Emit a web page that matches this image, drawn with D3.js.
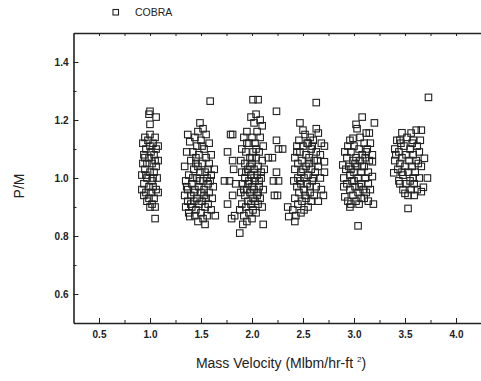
<!DOCTYPE html>
<html>
<head>
<meta charset="utf-8">
<script src="https://cdn.jsdelivr.net/npm/d3@7"></script>
<style>
  body { margin: 0; background: #fff; }
  svg { display: block; font-family: Arial, "Liberation Sans", sans-serif; }
  .axis path, .axis line { stroke: #222; }
  .axis text { fill: #222; font-weight: bold; font-size: 10px; }
</style>
</head>
<body>
<script>
// P/M against mass velocity, COBRA, one array per mass-velocity group: [G, P/M]
var g10 = [
  [1.00,1.23],[1.06,1.21],[0.99,1.22],[1.00,1.185],
  [0.95,1.14],[1.00,1.15],[1.05,1.14],[0.93,1.12],[0.98,1.13],[1.03,1.12],[1.08,1.11],
  [0.96,1.10],[1.01,1.09],[1.06,1.10],[0.94,1.08],[0.99,1.07],[1.04,1.08],[1.08,1.06],
  [0.93,1.05],[0.97,1.05],[1.02,1.05],[1.06,1.04],[0.95,1.03],[1.00,1.02],[1.04,1.02],
  [0.92,1.01],[0.97,1.00],[1.02,0.99],[1.07,1.00],[0.94,0.98],[0.99,0.97],[1.03,0.97],
  [0.92,0.96],[0.96,0.95],[1.01,0.95],[1.06,0.96],[0.94,0.94],[0.99,0.93],[1.04,0.93],
  [1.08,0.95],[0.97,0.92],[1.02,0.91],[1.05,0.90],[1.00,0.90],[0.95,1.07],[1.05,1.06],
  [1.00,1.11],[0.96,1.01],[1.03,1.00],[1.05,0.86]
];
var g15 = [
  [1.59,1.265],
  [1.49,1.19],[1.52,1.17],[1.47,1.16],[1.37,1.15],[1.55,1.15],[1.44,1.14],[1.50,1.13],
  [1.39,1.125],[1.58,1.12],[1.46,1.11],[1.53,1.10],[1.36,1.09],[1.42,1.09],[1.60,1.08],
  [1.48,1.08],[1.55,1.07],[1.40,1.06],[1.45,1.05],[1.51,1.05],[1.58,1.05],[1.34,1.04],
  [1.63,1.03],[1.43,1.03],[1.49,1.02],[1.54,1.02],[1.38,1.01],[1.60,1.01],[1.46,1.00],
  [1.52,0.99],[1.35,0.99],[1.41,0.98],[1.57,0.98],[1.48,0.97],[1.62,0.97],[1.37,0.96],
  [1.44,0.96],[1.53,0.96],[1.50,0.95],[1.58,0.95],[1.34,0.94],[1.40,0.94],[1.46,0.93],
  [1.55,0.93],[1.61,0.93],[1.37,0.92],[1.43,0.92],[1.51,0.92],[1.48,0.91],[1.57,0.91],
  [1.35,0.90],[1.41,0.90],[1.54,0.90],[1.45,0.89],[1.60,0.89],[1.38,0.88],[1.50,0.88],
  [1.56,0.87],[1.39,0.867],[1.44,0.87],[1.64,0.87],[1.47,0.85],[1.52,0.86],[1.54,0.84],
  [1.42,1.00],[1.56,1.00],[1.47,1.04],[1.53,0.94],[1.36,0.97],[1.59,0.99],[1.43,0.95],
  [1.49,0.99],[1.45,1.07],[1.51,1.11],[1.57,1.03],[1.40,0.91]
];
var g20 = [
  [2.01,1.27],[2.06,1.27],[2.04,1.22],[1.99,1.21],[2.08,1.20],[2.02,1.19],[2.10,1.18],
  [1.79,1.15],[1.81,1.15],[1.95,1.16],[2.05,1.16],[1.92,1.14],[2.00,1.14],[2.08,1.14],
  [1.97,1.12],[2.03,1.12],[2.11,1.11],[1.76,1.09],[1.90,1.10],[1.94,1.09],[2.01,1.09],
  [2.07,1.09],[1.98,1.07],[2.04,1.07],[2.10,1.06],[1.81,1.06],[1.89,1.06],[1.93,1.05],
  [2.00,1.05],[2.06,1.04],[1.82,1.03],[1.96,1.03],[2.02,1.03],[2.12,1.03],[1.90,1.02],
  [1.99,1.01],[2.05,1.01],[2.09,1.00],[1.73,0.99],[1.78,0.99],[1.84,0.98],[1.93,1.00],
  [1.97,0.99],[2.03,0.99],[1.91,0.98],[2.00,0.97],[2.07,0.97],[1.95,0.96],[2.02,0.96],
  [2.11,0.96],[1.89,0.95],[1.98,0.95],[2.05,0.94],[1.81,0.94],[1.93,0.94],[2.01,0.93],
  [2.08,0.93],[1.96,0.92],[2.03,0.92],[1.76,0.91],[1.90,0.91],[1.99,0.91],[2.06,0.91],
  [1.94,0.90],[2.01,0.89],[2.10,0.90],[1.88,0.89],[1.97,0.88],[2.04,0.88],[1.92,0.87],
  [1.83,0.87],[1.80,0.86],[2.00,0.86],[1.95,0.85],[1.91,0.84],[1.88,0.81],[2.11,0.84],
  [1.98,1.04],[2.04,1.10],[1.95,1.12],[2.09,1.02],[1.92,0.96],[2.02,1.00],[1.96,0.98],
  [2.07,0.99],[2.00,1.07],[1.94,1.02],[2.06,0.95],
  [2.24,1.23],[2.24,1.13],[2.26,1.10],[2.30,1.10],[2.16,1.07],[2.20,1.07],[2.24,1.02],
  [2.21,0.99],[2.26,0.99],[2.22,0.94],[2.25,0.94]
];
var g25 = [
  [2.63,1.26],
  [2.47,1.19],[2.50,1.165],[2.63,1.17],[2.65,1.155],[2.52,1.15],[2.57,1.14],[2.46,1.13],
  [2.60,1.13],[2.54,1.12],[2.68,1.12],[2.44,1.11],[2.50,1.11],[2.71,1.11],[2.58,1.10],
  [2.63,1.09],[2.47,1.09],[2.53,1.08],[2.67,1.08],[2.42,1.07],[2.56,1.07],[2.61,1.06],
  [2.49,1.06],[2.71,1.056],[2.45,1.05],[2.53,1.04],[2.65,1.04],[2.58,1.03],[2.42,1.03],
  [2.48,1.02],[2.71,1.02],[2.62,1.02],[2.55,1.01],[2.45,1.00],[2.51,1.00],[2.67,1.00],
  [2.41,0.99],[2.59,0.99],[2.48,0.98],[2.54,0.98],[2.63,0.97],[2.44,0.97],[2.68,0.96],
  [2.51,0.96],[2.57,0.95],[2.46,0.95],[2.70,0.94],[2.61,0.94],[2.53,0.93],[2.42,0.93],
  [2.49,0.92],[2.58,0.92],[2.65,0.92],[2.45,0.91],[2.55,0.90],[2.35,0.90],[2.40,0.89],
  [2.51,0.89],[2.48,0.88],[2.36,0.867],[2.43,0.87],[2.42,0.85],
  [2.56,1.05],[2.50,1.03],[2.60,1.00],[2.47,0.99],[2.57,0.97],[2.52,0.94],[2.64,1.06],
  [2.44,1.09],[2.59,1.11],[2.55,1.12]
];
var g30 = [
  [3.08,1.21],[3.20,1.19],[3.02,1.185],[3.03,1.17],[3.12,1.155],[3.15,1.155],[2.96,1.13],
  [2.99,1.137],[3.06,1.14],[3.10,1.12],[3.16,1.12],[2.94,1.11],[3.00,1.11],[3.05,1.10],
  [3.13,1.10],[2.91,1.09],[2.97,1.09],[3.08,1.08],[3.18,1.08],[3.02,1.07],[2.93,1.07],
  [3.11,1.07],[2.99,1.06],[3.06,1.06],[3.15,1.06],[2.89,1.045],[2.95,1.04],[3.03,1.04],
  [3.10,1.04],[3.18,1.056],[2.92,1.03],[3.00,1.02],[3.07,1.02],[3.14,1.02],[2.96,1.01],
  [3.04,1.00],[3.11,1.00],[3.18,1.005],[2.90,1.00],[2.98,0.99],[3.07,0.98],[3.14,0.98],
  [2.93,0.98],[3.01,0.97],[2.90,0.97],[3.09,0.96],[3.16,0.96],[2.96,0.96],[3.04,0.95],
  [3.12,0.95],[2.91,0.935],[2.99,0.94],[3.07,0.93],[2.94,0.92],[3.02,0.92],[3.14,0.92],
  [2.97,0.91],[3.19,0.91],[2.96,0.90],[3.05,0.91],[3.10,0.93],[3.04,0.835],
  [3.01,1.05],[3.08,1.04],[2.97,1.03],[3.05,0.97],[3.12,1.09],[3.00,0.99]
];
var g35 = [
  [3.73,1.278],
  [3.47,1.156],[3.56,1.155],[3.61,1.165],[3.66,1.165],[3.65,1.13],[3.42,1.13],[3.45,1.13],
  [3.52,1.14],[3.58,1.13],[3.40,1.10],[3.49,1.11],[3.55,1.10],[3.62,1.11],[3.44,1.09],
  [3.64,1.09],[3.51,1.08],[3.58,1.08],[3.47,1.07],[3.69,1.068],[3.40,1.06],[3.54,1.06],
  [3.61,1.06],[3.45,1.05],[3.50,1.04],[3.57,1.04],[3.66,1.04],[3.43,1.03],[3.53,1.02],
  [3.39,1.018],[3.60,1.02],[3.48,1.01],[3.64,1.00],[3.72,1.00],[3.44,0.99],[3.55,0.99],
  [3.51,0.98],[3.45,0.98],[3.59,0.98],[3.68,0.968],[3.48,0.96],[3.56,0.96],[3.62,0.96],
  [3.66,0.953],[3.50,0.947],[3.53,0.94],[3.59,0.94],[3.53,0.895],
  [3.46,1.12],[3.57,1.12],[3.63,1.05],[3.47,1.02],[3.58,1.00],[3.41,1.08]
];

var xMajor = [0.5, 1.0, 1.5, 2.0, 2.5, 3.0, 3.5, 4.0];
var xMinor = [0.75, 1.25, 1.75, 2.25, 2.75, 3.25, 3.75, 4.25];
var yMajor = [0.6, 0.8, 1.0, 1.2, 1.4];
var yMinor = [0.7, 0.9, 1.1, 1.3, 1.5];
var seriesName = "COBRA";

var width = 481,
    height = 381;

var svg = d3.select("body").append("svg")
    .attr("width", width)
    .attr("height", height);

var x = d3.scaleLinear().domain([0.25, 4.5]).range([73.5, 507]);
var y = d3.scaleLinear().domain([0.5, 1.5]).range([323, 33]);

var fmt = d3.format(".1f");

// bottom axis, ticks pointing in
svg.append("g").attr("class", "axis")
    .attr("transform", "translate(0,323)")
    .call(d3.axisBottom(x).tickValues(xMajor).tickSize(-5).tickSizeOuter(0)
        .tickPadding(7.5).tickFormat(fmt))
    .call(function(g) { g.select(".domain").attr("stroke-width", 1.6); });
svg.append("g").attr("class", "axis")
    .attr("transform", "translate(0,323)")
    .call(d3.axisBottom(x).tickValues(xMinor).tickSize(-3).tickFormat(""))
    .call(function(g) { g.select(".domain").remove(); });

// top axis
svg.append("g").attr("class", "axis")
    .attr("transform", "translate(0,33)")
    .call(d3.axisTop(x).tickValues(xMajor.concat(xMinor)).tickSize(-3).tickSizeOuter(0).tickFormat(""))
    .call(function(g) { g.select(".domain").attr("stroke-width", 1.6); });

// left axis
svg.append("g").attr("class", "axis")
    .attr("transform", "translate(73.5,0)")
    .call(d3.axisLeft(y).tickValues(yMajor).tickSize(-5).tickSizeOuter(0)
        .tickPadding(5).tickFormat(fmt))
    .call(function(g) { g.select(".domain").attr("stroke-width", 1.6); });
svg.append("g").attr("class", "axis")
    .attr("transform", "translate(73.5,0)")
    .call(d3.axisLeft(y).tickValues(yMinor).tickSize(-3).tickFormat(""))
    .call(function(g) { g.select(".domain").remove(); });

// points
var all = [].concat(g10, g15, g20, g25, g30, g35);
var s = 6.5;
svg.append("g").selectAll("rect")
    .data(all)
    .enter().append("rect")
    .attr("x", function(d) { return x(d[0]) - s / 2; })
    .attr("y", function(d) { return y(d[1]) - s / 2; })
    .attr("width", s)
    .attr("height", s)
    .attr("fill", "none")
    .attr("stroke", "#222")
    .attr("stroke-width", 1.1);

// legend
svg.append("rect")
    .attr("x", 113).attr("y", 9.5).attr("width", 5.5).attr("height", 5.5)
    .attr("fill", "none").attr("stroke", "#222").attr("stroke-width", 1.1);
svg.append("text")
    .attr("x", 135).attr("y", 16)
    .style("font-size", "10.5px").attr("fill", "#222")
    .text(seriesName);

// axis titles
var xt = svg.append("text")
    .attr("x", 281).attr("y", 368)
    .attr("text-anchor", "middle")
    .style("font-size", "14px").attr("fill", "#222");
xt.append("tspan").text("Mass Velocity (Mlbm/hr-ft ");
xt.append("tspan").attr("dy", -6).style("font-size", "8px").text("2");
xt.append("tspan").attr("dy", 6).text(")");

svg.append("text")
    .attr("transform", "translate(23.5,186) rotate(-90)")
    .attr("text-anchor", "middle")
    .style("font-size", "14px").attr("fill", "#222")
    .text("P/M");
</script>
</body>
</html>
